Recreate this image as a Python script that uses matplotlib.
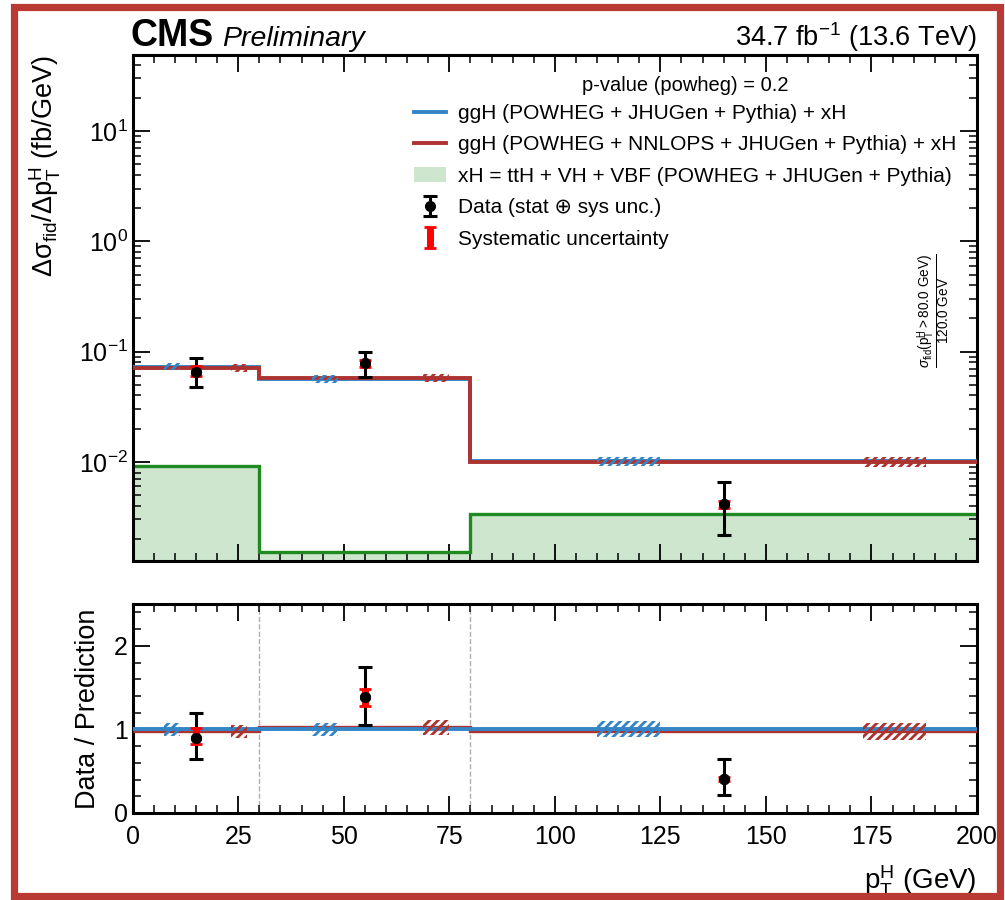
import numpy as np
import matplotlib
matplotlib.use("Agg")
import matplotlib.pyplot as plt
from matplotlib.lines import Line2D
from matplotlib.patches import Patch, Rectangle
from matplotlib.ticker import MultipleLocator, LogLocator, NullFormatter

# ---------------- data ----------------
bin_edges = [0, 30, 80, 200]
bin_centers = [15, 55, 140]

pred_powheg = [0.0730, 0.0565, 0.0102]      # ggH (POWHEG + JHUGen + Pythia) + xH
pred_nnlops = [0.0712, 0.0579, 0.00995]     # ggH (POWHEG + NNLOPS + JHUGen + Pythia) + xH
pred_xh = [0.0092, 0.00152, 0.00339]        # xH = ttH + VH + VBF

unc_powheg = [0.075, 0.080, 0.095]          # relative theory uncertainty (hatched)
unc_nnlops = [0.075, 0.085, 0.100]

data_val = [0.0658, 0.0783, 0.00412]
data_tot_lo = [0.0473, 0.0593, 0.00218]
data_tot_hi = [0.0876, 0.0985, 0.00658]
data_sys_lo = [0.0605, 0.0720, 0.00385]
data_sys_hi = [0.0746, 0.0840, 0.00444]

leg_labels = [
    "ggH (POWHEG + JHUGen + Pythia) + xH",
    "ggH (POWHEG + NNLOPS + JHUGen + Pythia) + xH",
    "xH = ttH + VH + VBF (POWHEG + JHUGen + Pythia)",
    "Data (stat \u2295 sys unc.)",
    "Systematic uncertainty",
]
pvalue_text = "p-value (powheg) = 0.2"
lumi_text = "34.7 fb$^{-1}$ (13.6 TeV)"

# ---------------- style ----------------
plt.rcParams["font.family"] = ["Liberation Sans", "DejaVu Sans"]
plt.rcParams["mathtext.fontset"] = "custom"
plt.rcParams["mathtext.rm"] = "Liberation Sans"
plt.rcParams["mathtext.it"] = "Liberation Sans:italic"
plt.rcParams["mathtext.bf"] = "Liberation Sans:bold"
plt.rcParams["hatch.linewidth"] = 2.0
plt.rcParams["xtick.direction"] = "in"
plt.rcParams["ytick.direction"] = "in"

C_BLUE = "#3485c6"
C_RED = "#ad3331"
C_GREEN = "#1f8a1f"
C_GFILL = "#cde6cd"

fig = plt.figure(figsize=(10.05, 9.0), dpi=100)
W, H = 1005.0, 900.0
L, R = 132.7, 977.0
ax = fig.add_axes([L / W, 1 - 561 / H, (R - L) / W, (561 - 55) / H])
rax = fig.add_axes([L / W, 1 - 813 / H, (R - L) / W, (813 - 604) / H])

edges = np.array(bin_edges, float)
widths = np.diff(edges)
lows = edges[:-1]
pw = np.array(pred_powheg)
nn = np.array(pred_nnlops)
xh = np.array(pred_xh)
dv = np.array(data_val)

ymin, ymax = 1.26e-3, 49.0

# ---------------- top panel ----------------
ax.set_yscale("log")
ax.stairs(xh, edges, fill=True, color=C_GFILL, baseline=ymin * 0.5, zorder=1)
ax.stairs(xh, edges, color=C_GREEN, lw=2.4, baseline=None, zorder=2)
ax.stairs(pw, edges, color=C_BLUE, lw=2.8, baseline=None, zorder=3)
ax.stairs(nn, edges, color=C_RED, lw=2.8, baseline=None, zorder=3.5)

def hatch_boxes(a, center, rel, color, f0, f1):
    for lo, w, c, u in zip(lows, widths, center, rel):
        a.add_patch(Rectangle((lo + f0 * w, c * (1 - u)), (f1 - f0) * w, 2 * u * c,
                              facecolor="none", edgecolor=color, hatch="////",
                              linewidth=0, zorder=4))

hatch_boxes(ax, pw, unc_powheg, C_BLUE, 0.25, 0.375)
hatch_boxes(ax, nn, unc_nnlops, C_RED, 0.775, 0.9)

tot_err = [dv - np.array(data_tot_lo), np.array(data_tot_hi) - dv]
sys_err = [dv - np.array(data_sys_lo), np.array(data_sys_hi) - dv]
h_data = ax.errorbar(bin_centers, dv, yerr=tot_err, fmt="o", color="black", ms=7,
                     elinewidth=2.2, capsize=5, capthick=2.2, zorder=5)
h_sys = ax.errorbar(bin_centers, dv, yerr=sys_err, fmt="none", ecolor="red",
                    elinewidth=5, capsize=4.5, capthick=2, zorder=6)
ax.plot(bin_centers, dv, "o", color="black", ms=7, zorder=7)

ax.set_xlim(0, 200)
ax.set_ylim(ymin, ymax)
ax.yaxis.set_major_locator(LogLocator(base=10, numticks=20))
ax.yaxis.set_minor_locator(LogLocator(base=10, subs=np.arange(2, 10), numticks=20))
ax.yaxis.set_minor_formatter(NullFormatter())
ax.xaxis.set_major_locator(MultipleLocator(25))
ax.xaxis.set_minor_locator(MultipleLocator(5))
ax.tick_params(axis="x", labelbottom=False)

ax.set_ylabel("\u0394\u03c3$_{\\mathrm{fid}}$/\u0394p$_{\\mathrm{T}}^{\\mathrm{H}}$ (fb/GeV)",
              fontsize=19.5, loc="top", labelpad=11)

# legend
handles = [
    Line2D([], [], color=C_BLUE, lw=2.8),
    Line2D([], [], color=C_RED, lw=2.8),
    Patch(facecolor=C_GFILL, edgecolor="none"),
    h_data,
    h_sys,
]
leg = ax.legend(handles, leg_labels, loc="upper right", bbox_to_anchor=(0.985, 0.974),
                frameon=False, fontsize=15, title=pvalue_text, title_fontsize=14.5,
                handlelength=1.55, handletextpad=0.55, labelspacing=0.6,
                borderaxespad=0.0)
leg._legend_box.sep = 6

# overflow note
ax.text(0.949, 0.494, r"$\frac{\sigma_{\mathrm{fid}}(\mathrm{p}_{\mathrm{T}}^{\mathrm{H}} > 80.0\ \mathrm{GeV})}{120.0\ \mathrm{GeV}}$",
        transform=ax.transAxes, rotation=90, ha="center", va="center", fontsize=14)

# ---------------- ratio panel ----------------
ratio_pw = pw / pw
ratio_nn = nn / pw
rax.stairs(ratio_nn, edges, color=C_RED, lw=2.4, baseline=None, zorder=3)
rax.stairs(ratio_pw, edges, color=C_BLUE, lw=2.8, baseline=None, zorder=3.5)
hatch_boxes(rax, ratio_pw, unc_powheg, C_BLUE, 0.25, 0.375)
hatch_boxes(rax, ratio_nn, unc_nnlops, C_RED, 0.775, 0.9)
for e in edges[1:-1]:
    rax.axvline(e, color="#b0b0b0", ls="--", lw=1.0, zorder=1)

r_val = dv / pw
r_tot = [tot_err[0] / pw, tot_err[1] / pw]
r_sys = [sys_err[0] / pw, sys_err[1] / pw]
rax.errorbar(bin_centers, r_val, yerr=r_tot, fmt="o", color="black", ms=7,
             elinewidth=2.2, capsize=5, capthick=2.2, zorder=5)
rax.errorbar(bin_centers, r_val, yerr=r_sys, fmt="none", ecolor="red",
             elinewidth=5, capsize=4.5, capthick=2, zorder=6)
rax.plot(bin_centers, r_val, "o", color="black", ms=7, zorder=7)

rax.set_xlim(0, 200)
rax.set_ylim(0, 2.5)
rax.xaxis.set_major_locator(MultipleLocator(25))
rax.xaxis.set_minor_locator(MultipleLocator(5))
rax.yaxis.set_major_locator(MultipleLocator(1))
rax.yaxis.set_minor_locator(MultipleLocator(0.2))
rax.set_ylabel("Data / Prediction", fontsize=19.5, labelpad=9)
rax.set_xlabel("p$_{\\mathrm{T}}^{\\mathrm{H}}$ (GeV)", fontsize=20, loc="right", labelpad=10)

for a in (ax, rax):
    a.tick_params(which="both", top=True, right=True, labelsize=18)
    a.tick_params(which="major", length=12, width=1.3)
    a.tick_params(which="minor", length=6, width=1.1)
    for s in a.spines.values():
        s.set_linewidth(2.2)
rax.tick_params(axis="x", pad=9)

# ---------------- header text ----------------
fig.text(L / W - 0.002, 1 - 46 / H, "CMS", fontsize=27, fontweight="bold", ha="left", va="baseline")
fig.text(222 / W, 1 - 46 / H, "Preliminary", fontsize=20.5, fontstyle="italic", ha="left", va="baseline")
fig.text(R / W, 1 - 46 / H, lumi_text, fontsize=19.5, ha="right", va="baseline")

# red frame
fig.add_artist(Rectangle((13.5 / W, 1 - 896 / H), (1000 - 13.5) / W, (896 - 6.5) / H,
                         transform=fig.transFigure, fill=False, edgecolor="#b83a33", lw=5.2))

fig.savefig("out.png", dpi=100)
